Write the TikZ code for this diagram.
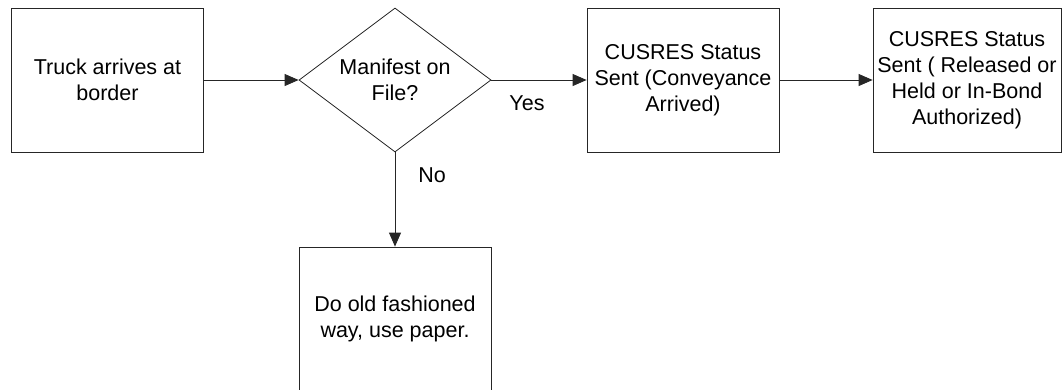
\documentclass[tikz,border=0pt]{standalone}
\usepackage{fontspec}
\setmainfont{Liberation Sans}
\usetikzlibrary{shapes.geometric,arrows.meta}
\begin{document}
\begin{tikzpicture}[x=1pt,y=-1pt,
  box/.style={draw=black!85,line width=0.8pt,minimum width=192pt,minimum height=144pt,inner sep=0pt,align=center,font=\fontsize{21.5}{26}\selectfont},
  decision/.style={draw=black!85,line width=0.8pt,shape=diamond,aspect=1.347,minimum width=192pt,minimum height=144pt,inner sep=0pt,align=center,font=\fontsize{21.5}{26}\selectfont},
  conn/.style={draw=black!85,line width=0.8pt,-{Triangle[length=14pt,width=12pt]}},
  lbl/.style={font=\fontsize{21.5}{26}\selectfont,inner sep=0pt}]
\useasboundingbox (0,0) rectangle (1062,389);
\node[box] (truck) at (107.5,80) {Truck arrives at\\border};
\node[decision] (manifest) at (395,80) {Manifest on\\File?};
\node[box] (sent1) at (683,80) {CUSRES Status\\Sent (Conveyance\\Arrived)};
\node[box,minimum width=188pt] (sent2) at (967,80) {CUSRES Status\\Sent ( Released or\\Held or In-Bond\\Authorized)};
\node[box] (paper) at (395,319) {Do old fashioned\\way, use paper.};
\draw[conn] (truck) -- (manifest);
\draw[conn] (manifest) -- (sent1);
\draw[conn] (sent1) -- (sent2);
\draw[conn] (manifest) -- (paper);
\node[lbl] (yes) at (527,103) {Yes};
\node[lbl] (no) at (432,175) {No};
\end{tikzpicture}
\end{document}
